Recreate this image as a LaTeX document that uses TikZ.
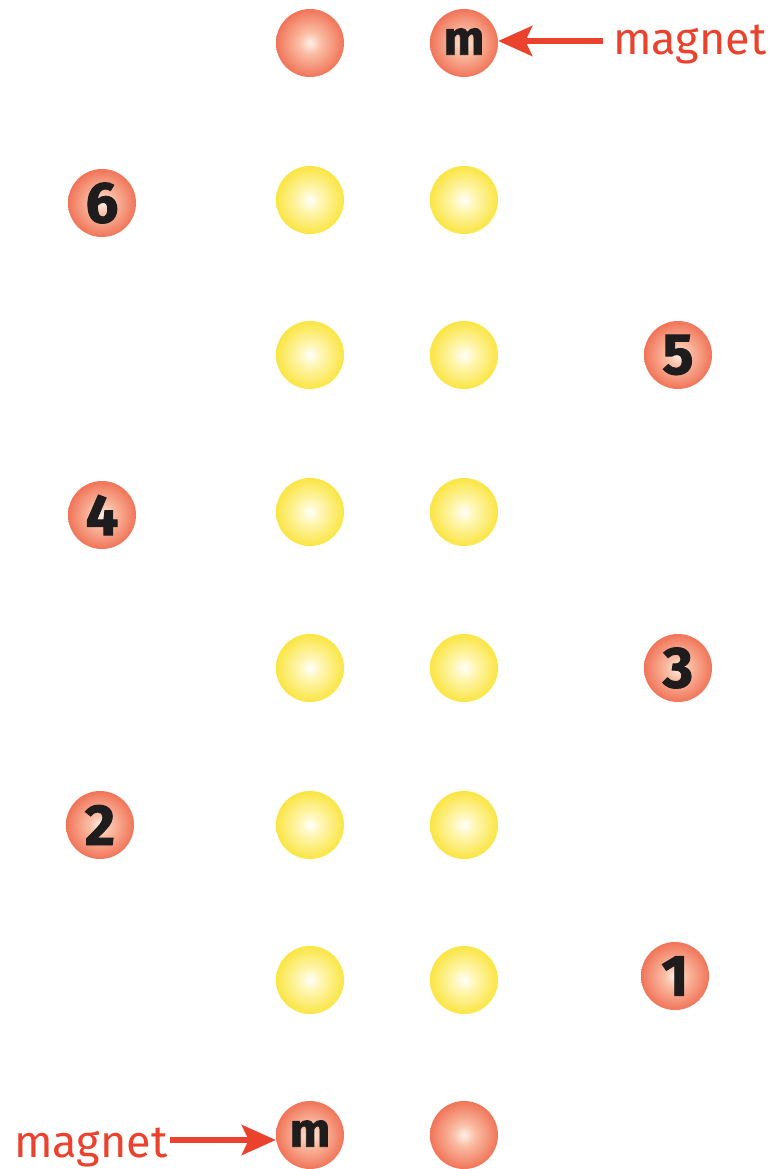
\documentclass[tikz,border=0pt]{standalone}
\usepackage{fontspec}
\setmainfont{Fira Sans}
\newfontfamily\heavy{Fira Sans}[BoldFeatures={FakeBold=1.6}]
\usetikzlibrary{arrows.meta}
\definecolor{labred}{RGB}{234,66,44}
\definecolor{ink}{RGB}{30,28,28}
\definecolor{r0}{RGB}{255,240,232}
\definecolor{r1}{RGB}{250,190,165}
\definecolor{r2}{RGB}{240,112,84}
\definecolor{r3}{RGB}{234,78,54}
\definecolor{r4}{RGB}{220,52,36}
\definecolor{y0}{RGB}{255,255,252}
\definecolor{y1}{RGB}{255,246,180}
\definecolor{y2}{RGB}{250,228,60}
\definecolor{y3}{RGB}{246,218,10}
\definecolor{y4}{RGB}{238,204,0}
\pgfdeclareradialshading{redball}{\pgfpoint{0bp}{0bp}}{%
  color(0bp)=(r0); color(8bp)=(r1); color(26bp)=(r2); color(44bp)=(r3); color(50bp)=(r4)}
\pgfdeclareradialshading{yellowball}{\pgfpoint{0bp}{0bp}}{%
  color(0bp)=(y0); color(8bp)=(y1); color(26bp)=(y2); color(44bp)=(y3); color(50bp)=(y4)}
\tikzset{
  ball/.style={circle, minimum size=68pt, inner sep=0pt, text=ink},
  redb/.style={ball, shading=redball},
  yelb/.style={ball, shading=yellowball},
  digit/.style={redb, font=\fontsize{58}{58}\heavy\bfseries},
  mball/.style={redb, font=\fontsize{48}{48}\heavy\bfseries},
  lab/.style={text=labred, font=\fontsize{45}{45}\selectfont, inner sep=0pt},
  arr/.style={draw=labred, line width=6pt, -{Stealth[length=34pt,width=30pt,inset=7pt]}}
}
\begin{document}
\begin{tikzpicture}[x=1pt,y=-1pt]
\useasboundingbox (0,0) rectangle (773,1169);
% top row
\node[redb] (t1) at (310,43) {};
\node[mball] (t2) at (464,43) {\raisebox{3pt}{m}};
% yellow columns
\foreach \i/\y in {1/200,2/355,3/512,4/668,5/825,6/980}{
  \node[yelb] (a\i) at (310,\y) {};
  \node[yelb] (b\i) at (464,\y) {};
}
% bottom row
\node[mball] (u1) at (310,1135) {\raisebox{3pt}{m}};
\node[redb] (u2) at (464,1135) {};
% numbered balls
\node[digit] (n6) at (102,203) {6};
\node[digit] (n5) at (678,355) {5};
\node[digit] (n4) at (102,515) {4};
\node[digit] (n3) at (678,668) {3};
\node[digit] (n2) at (100,825) {2};
\node[digit] (n1) at (675,976) {1};
% labels
\node[lab, anchor=base west] (lt) at (613,55) {magnet};
\node[lab, anchor=base west] (lb) at (14,1157) {magnet};
\coordinate (ts) at (603,41);
\coordinate (bs) at (170,1140);
\draw[arr] (ts) -- (t2.east |- ts);
\draw[arr] (bs) -- (u1.west |- bs);
\end{tikzpicture}
\end{document}
